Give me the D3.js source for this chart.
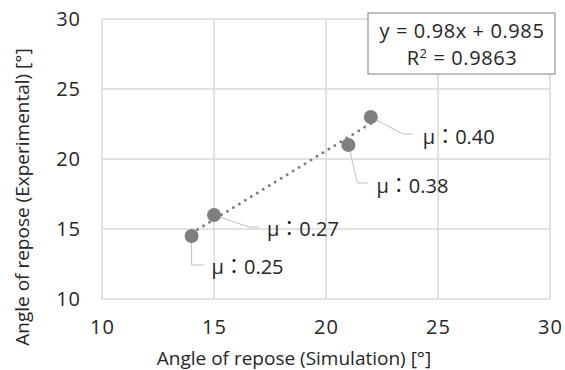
<!DOCTYPE html>
<html>
<head>
<meta charset="utf-8">
<script src="https://cdn.jsdelivr.net/npm/d3@7"></script>
<style>
  body { margin: 0; background: #fff; }
  text { font-family: "Open Sans", "Noto Sans CJK JP", sans-serif; fill: #262626; }
</style>
</head>
<body>
<div id="chart"></div>
<script>
// data
const simAngle = [14, 15, 21, 22];
const expAngle = [14.5, 16, 21, 23];
const frictionLabels = ["μ：0.25", "μ：0.27", "μ：0.38", "μ：0.40"];
const xTicks = [10, 15, 20, 25, 30];
const yTicks = [10, 15, 20, 25, 30];
const slope = 0.98, intercept = 0.985;
const equationLines = ["y = 0.98x + 0.985", "R2 = 0.9863"];

// leader line offsets for each label (pixels from point)
const leaders = [
  { pts: [[0, 0], [0, 29], [12, 29]], tx: 20, ty: 31 },
  { pts: [[0, 0], [35, 12], [45, 12]], tx: 53, ty: 14 },
  { pts: [[0, 0], [9, 38], [20, 38]], tx: 28, ty: 41 },
  { pts: [[0, 0], [32, 17], [42, 17]], tx: 52, ty: 20 }
];

const W = 565, H = 370;
const margin = { top: 19, right: 15, bottom: 71, left: 102 };

const svg = d3.select("#chart").append("svg")
  .attr("width", W)
  .attr("height", H);

const x = d3.scaleLinear().domain([10, 30]).range([margin.left, W - margin.right]);
const y = d3.scaleLinear().domain([10, 30]).range([H - margin.bottom, margin.top]);

// gridlines
svg.append("g")
  .selectAll("line")
  .data(xTicks)
  .enter().append("line")
  .attr("x1", d => x(d)).attr("x2", d => x(d))
  .attr("y1", y(10)).attr("y2", y(30))
  .attr("stroke", "#d9d9d9").attr("stroke-width", 1.5);

svg.append("g")
  .selectAll("line")
  .data(yTicks)
  .enter().append("line")
  .attr("y1", d => y(d)).attr("y2", d => y(d))
  .attr("x1", x(10)).attr("x2", x(30))
  .attr("stroke", "#d9d9d9").attr("stroke-width", 1.5);

// axes (labels only)
const xAxis = svg.append("g")
  .attr("transform", `translate(0, ${y(10)})`)
  .call(d3.axisBottom(x).tickValues(xTicks).tickSize(0).tickPadding(21));
const yAxis = svg.append("g")
  .attr("transform", `translate(${x(10)}, 0)`)
  .call(d3.axisLeft(y).tickValues(yTicks).tickSize(0).tickPadding(21));
[xAxis, yAxis].forEach(a => {
  a.select(".domain").remove();
  a.selectAll("text")
    .style("font-family", "'Open Sans', sans-serif")
    .style("font-size", "20px")
    .style("letter-spacing", "1px")
    .attr("fill", "#262626");
});

// axis titles
svg.append("text")
  .attr("x", 294)
  .attr("y", 365)
  .attr("text-anchor", "middle")
  .style("font-size", "19px")
  .text("Angle of repose (Simulation) [°]");

svg.append("text")
  .attr("transform", `translate(29, 197) rotate(-90)`)
  .attr("text-anchor", "middle")
  .style("font-size", "19px")
  .text("Angle of repose (Experimental) [°]");

// trendline
const xMin = d3.min(simAngle), xMax = d3.max(simAngle);
svg.append("line")
  .attr("x1", x(xMin)).attr("y1", y(slope * xMin + intercept))
  .attr("x2", x(xMax)).attr("y2", y(slope * xMax + intercept))
  .attr("stroke", "#7f7f7f")
  .attr("stroke-width", 3)
  .attr("stroke-linecap", "round")
  .attr("stroke-dasharray", "0 7");

// leader lines + labels
const pts = simAngle.map((d, i) => ({ x: d, y: expAngle[i], label: frictionLabels[i], lead: leaders[i] }));

svg.append("g").selectAll("polyline")
  .data(pts)
  .enter().append("polyline")
  .attr("points", d => d.lead.pts.map(p => [x(d.x) + p[0], y(d.y) + p[1]].join(",")).join(" "))
  .attr("fill", "none")
  .attr("stroke", "#bfbfbf")
  .attr("stroke-width", 1);

// markers
svg.append("g").selectAll("circle")
  .data(pts)
  .enter().append("circle")
  .attr("cx", d => x(d.x))
  .attr("cy", d => y(d.y))
  .attr("r", 7)
  .attr("fill", "#7f7f7f");

svg.append("g").selectAll("text")
  .data(pts)
  .enter().append("text")
  .attr("x", d => x(d.x) + d.lead.tx)
  .attr("y", d => y(d.y) + d.lead.ty)
  .attr("dy", "0.35em")
  .style("font-size", "20px")
  .text(d => d.label);

// equation box
const box = svg.append("g");
box.append("rect")
  .attr("x", 368).attr("y", 13)
  .attr("width", 187).attr("height", 61)
  .attr("fill", "#fff")
  .attr("stroke", "#7f7f7f")
  .attr("stroke-width", 1);
box.append("text")
  .attr("x", 462).attr("y", 38)
  .attr("text-anchor", "middle")
  .style("font-size", "20px")
  .style("letter-spacing", "0.6px")
  .text(equationLines[0]);
const r2 = box.append("text")
  .attr("x", 462).attr("y", 65)
  .attr("text-anchor", "middle")
  .style("font-size", "20px")
  .style("letter-spacing", "0.6px");
r2.append("tspan").text("R");
r2.append("tspan").attr("dy", -7).style("font-size", "13px").text("2");
r2.append("tspan").attr("dy", 7).text(" = 0.9863");
</script>
</body>
</html>
